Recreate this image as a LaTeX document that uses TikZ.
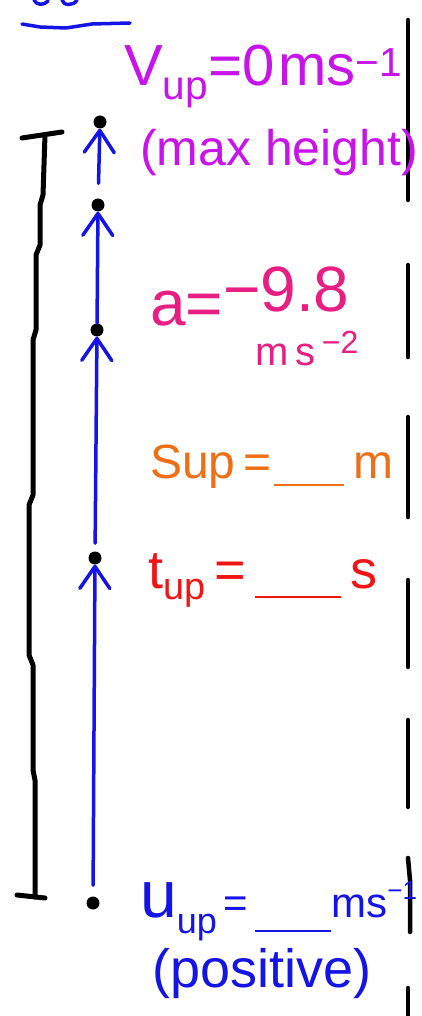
\documentclass[tikz,border=0pt]{standalone}
\usepackage{fontspec}
\setmainfont{Liberation Sans}
\usetikzlibrary{arrows.meta}
\definecolor{vcol}{RGB}{200,20,235}
\definecolor{acol}{RGB}{232,30,130}
\definecolor{scol}{RGB}{240,110,20}
\definecolor{tcol}{RGB}{240,20,20}
\definecolor{ucol}{RGB}{20,20,230}
\tikzset{
  dot/.style={circle,fill=black,inner sep=0pt,minimum size=13pt},
  label/.style={inner sep=0pt,anchor=base west},
  uparrow/.style={draw=ucol,line width=3.5pt,line cap=round,
    -{Straight Barb[length=22pt,width=30pt,line width=3.5pt,round]}},
  bracket/.style={draw=black,line width=5pt,line cap=round,line join=round},
  dashline/.style={draw=black,line width=4.5pt,line cap=round},
  bluestroke/.style={draw=ucol,line width=3.5pt,line cap=round,line join=round}
}
\begin{document}
\begin{tikzpicture}[x=1pt,y=-1pt]
\useasboundingbox[fill=white] (0,0) rectangle (422,1016);

% cut-off blue heading fragments and underline
\draw[bluestroke] (34,0) .. controls (36,5) and (44,6) .. (48,1);
\draw[bluestroke] (62,0) .. controls (63,6) and (74,6) .. (77,0);
\coordinate (ul1) at (22,24);
\coordinate (ul2) at (130,23);
\draw[bluestroke] (ul1) -- (40,27) -- (66,28) -- (92,24) -- (ul2);

% left bracket
\coordinate (bt) at (45,135);
\coordinate (bb) at (35,897);
\draw[bracket] (22,138) -- (62,132);
\draw[bracket] (bt) -- (43,195) -- (40,205) -- (40,245) -- (36,255) -- (36,330)
  -- (33,340) -- (33,495) -- (29,505) -- (29,655) -- (33,665) -- (33,770)
  -- (35,780) -- (bb);
\draw[bracket] (17,895) -- (45,898);

% right dashed line
\draw[dashline] (408,20) -- (408,200);
\draw[dashline] (408,265) -- (408,357);
\draw[dashline] (408,417) -- (408,517);
\draw[dashline] (408,580) -- (408,667);
\draw[dashline] (408,720) -- (408,807);
\draw[dashline] (408,858) -- (410,880) -- (410,932);
\draw[dashline] (408,988) -- (408,1016);

% dots
\node[dot] (d1) at (100,122) {};
\node[dot] (d2) at (98,205) {};
\node[dot] (d3) at (97,330) {};
\node[dot] (d4) at (95,558) {};
\node[dot] (d5) at (93,903) {};

% arrows
\draw[uparrow,shorten <=15pt] (d2) -- (d1);
\draw[uparrow] (d3) -- (d2);
\draw[uparrow,shorten <=8pt] (d4) -- (d3);
\draw[uparrow,shorten <=11pt] (d5) -- (d4);

% texts
\node[label,text=vcol,font=\fontsize{58}{66}\selectfont] (vtxt) at (124,86)
  {V\textsubscript{up}=0\hspace{4pt}ms\textsuperscript{−1}};
\node[label,text=vcol,font=\fontsize{50}{60}\selectfont] (mtxt) at (140,166)
  {(max height)};
\node[label,text=acol,font=\fontsize{64}{72}\selectfont] (atxt) at (150,325)
  {a=\raisebox{14pt}{−9.8}};
\node[label,text=acol,font=\fontsize{40}{48}\selectfont] (mstxt) at (255,365)
  {m\,s\,\raisebox{12pt}{\fontsize{32}{32}\selectfont −2}};
\node[label,text=scol,font=\fontsize{48}{56}\selectfont] (stxt) at (150,478)
  {Sup\,=\hspace{2pt}\rule[-8pt]{70pt}{2.5pt}\hspace{10pt}m};
\node[label,text=tcol,font=\fontsize{54}{60}\selectfont] (ttxt) at (148,588)
  {t\textsubscript{up}\,=\,\rule[-10pt]{86pt}{2.5pt}\,s};
\node[label,text=ucol,font=\fontsize{42}{48}\selectfont] (utxt) at (140,917)
  {{\fontsize{66}{66}\selectfont u}\raisebox{-16pt}{\fontsize{36}{36}\selectfont up}\,=\,\rule[-15pt]{76pt}{2.5pt}ms\raisebox{18pt}{\fontsize{26}{26}\selectfont −1}};
\node[label,text=ucol,font=\fontsize{54}{60}\selectfont] (ptxt) at (152,987)
  {(positive)};
\end{tikzpicture}
\end{document}
